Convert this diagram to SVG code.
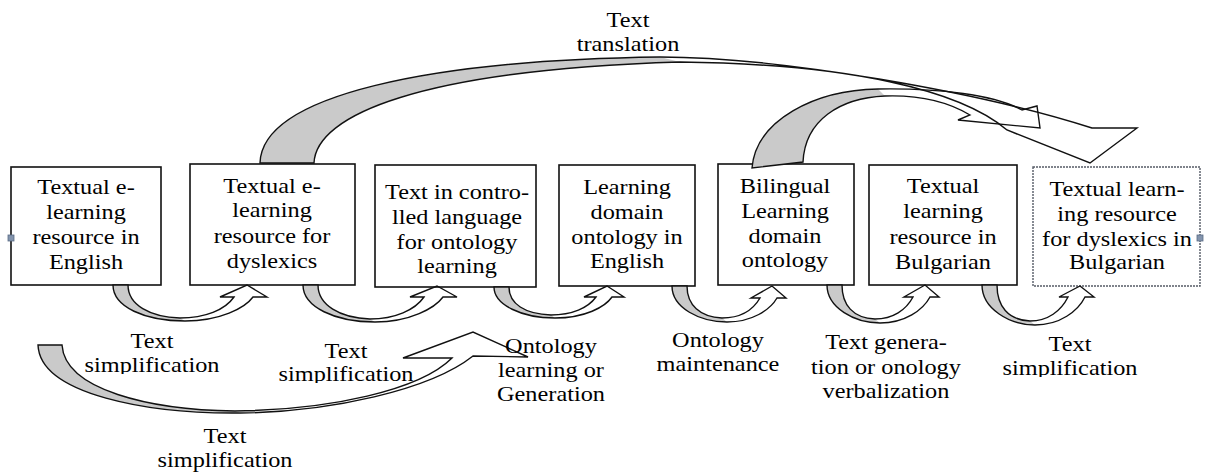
<svg xmlns="http://www.w3.org/2000/svg" width="1205" height="472" viewBox="0 0 1205 472">
<style>
.box{fill:#fff;stroke:#111;stroke-width:1.6}
.box.sel{stroke:#555b66;stroke-width:1.4;stroke-dasharray:2 1}
.t{font-family:"Liberation Serif","Times New Roman",serif;font-size:21.5px;fill:#000;text-anchor:middle}
.g{fill:#cacaca;stroke:none}
.ln{fill:none;stroke:#111;stroke-width:1.4;stroke-linejoin:miter}
.hd{fill:#8394ad;stroke:#5a6b85;stroke-width:0.8}
</style>
<defs>
<clipPath id="c1"><rect x="40" y="320" width="230" height="54"/></clipPath>
<clipPath id="c2"><rect x="240" y="330" width="220" height="53"/></clipPath>
<clipPath id="c7"><rect x="980" y="320" width="190" height="57"/></clipPath>
</defs>
<rect width="1205" height="472" fill="#fff"/>

<g id="node-en">
<rect class="box" x="11" y="167" width="150" height="118"/>
<text class="t" transform="translate(86 0) scale(1.13 1)"><tspan x="0" y="194">Textual e-</tspan><tspan x="0" y="219">learning</tspan><tspan x="0" y="244">resource in</tspan><tspan x="0" y="269">English</tspan></text>
<rect class="hd" x="8" y="235" width="6" height="6"/>
</g>
<g id="node-dys">
<rect class="box" x="190" y="164" width="165" height="121"/>
<text class="t" transform="translate(272 0) scale(1.13 1)"><tspan x="0" y="193">Textual e-</tspan><tspan x="0" y="217">learning</tspan><tspan x="0" y="243">resource for</tspan><tspan x="0" y="268">dyslexics</tspan></text>
</g>
<g id="node-ctrl">
<rect class="box" x="375" y="165" width="161" height="122"/>
<text class="t" transform="translate(457 0) scale(1.13 1)"><tspan x="0" y="199">Text in contro-</tspan><tspan x="0" y="224">lled language</tspan><tspan x="0" y="249">for ontology</tspan><tspan x="0" y="273">learning</tspan></text>
</g>
<g id="node-onto">
<rect class="box" x="559" y="165" width="136" height="121"/>
<text class="t" transform="translate(627 0) scale(1.13 1)"><tspan x="0" y="194">Learning</tspan><tspan x="0" y="219">domain</tspan><tspan x="0" y="244">ontology in</tspan><tspan x="0" y="268">English</tspan></text>
</g>
<g id="node-bil">
<rect class="box" x="718" y="164" width="136" height="121"/>
<text class="t" transform="translate(785 0) scale(1.13 1)"><tspan x="0" y="193">Bilingual</tspan><tspan x="0" y="218">Learning</tspan><tspan x="0" y="243">domain</tspan><tspan x="0" y="267">ontology</tspan></text>
</g>
<g id="node-bg">
<rect class="box" x="869" y="165" width="148" height="120"/>
<text class="t" transform="translate(943 0) scale(1.13 1)"><tspan x="0" y="193">Textual</tspan><tspan x="0" y="218">learning</tspan><tspan x="0" y="244">resource in</tspan><tspan x="0" y="269">Bulgarian</tspan></text>
</g>
<g id="node-bgdys">
<rect class="box sel" x="1033" y="167" width="167" height="119"/>
<text class="t" transform="translate(1117 0) scale(1.13 1)"><tspan x="0" y="196">Textual learn-</tspan><tspan x="0" y="221">ing resource</tspan><tspan x="0" y="246">for dyslexics in</tspan><tspan x="0" y="269">Bulgarian</tspan></text>
<rect class="hd" x="1197" y="235" width="6" height="6"/>
</g>

<g id="connectors">
<!-- small curved-up arrows -->
<path class="g" d="M113,285 C113,307 145,321 185,321 L180,318 C150,317 128,305 128,285 Z"/>
<path class="ln" d="M113,285 C113,307 145,321 185,321 C220,321 245,308 253,297 L267,297 L247,285 L220,297 L234,297 C225,310 205,318 180,318 C150,317 128,305 128,285 Z"/>

<path class="g" d="M303,285 C303,307 335,322 375,322 L370,319 C340,318 318,305 318,285 Z"/>
<path class="ln" d="M303,285 C303,307 335,322 375,322 C410,322 435,308 443,297 L457,297 L437,286 L410,297 L424,297 C415,310 395,319 370,319 C340,318 318,305 318,285 Z"/>

<path class="g" d="M494,287 C494,305 522,318 555,318 L551,315 C525,314 509,304 509,287 Z"/>
<path class="ln" d="M494,287 C494,305 522,318 555,318 C585,318 605,307 612,297 L624,297 L607,286 L584,297 L596,297 C588,308 572,315 551,315 C525,314 509,304 509,287 Z"/>

<path class="g" d="M672,286 C672,308 700,322 727,322 L722,318 C700,317 687,305 687,286 Z"/>
<path class="ln" d="M672,286 C672,308 700,322 727,322 C752,322 770,310 777,298 L786,298 L772,286 L751,298 L760,298 C753,310 740,318 722,318 C700,317 687,305 687,286 Z"/>

<path class="g" d="M827,285 C827,308 855,323 880,323 L875,319 C853,318 842,305 842,285 Z"/>
<path class="ln" d="M827,285 C827,308 855,323 880,323 C905,323 923,310 930,297 L939,297 L925,285 L904,297 L913,297 C906,310 893,319 875,319 C853,318 842,305 842,285 Z"/>

<path class="g" d="M982,285 C982,309 1010,325 1035,325 L1030,321 C1008,320 997,306 997,285 Z"/>
<path class="ln" d="M982,285 C982,309 1010,325 1035,325 C1060,325 1078,311 1085,297 L1094,297 L1080,286 L1059,297 L1068,297 C1061,311 1048,321 1030,321 C1008,320 997,306 997,285 Z"/>

<!-- long bottom arrow -->
<path class="g" d="M38,345 C40,395 150,414 240,413 L235,411 C150,410 65,390 62,345 Z"/>
<path class="ln" d="M38,345 C40,395 150,414 240,413 C330,412 430,390 473,356 L528,357 L473,332 L403,358 L452,358 C420,390 330,410 235,411 C150,410 65,390 62,345 Z"/>

<!-- arrow from bilingual ontology -->
<path class="g" d="M752,168 C756,120 815,90 878,89 L885,96 C840,98 805,120 803,162 Z"/>
<path class="ln" d="M752,168 C756,120 815,90 878,89 C940,88 995,95 1022,110 L1037,106 L1040,128 L958,120 L970,115 C945,100 915,95 885,96 C840,98 805,120 803,162 Z"/>

<!-- long top arrow: text translation -->
<path class="g" d="M260,163 C262,95 430,60 660,57 L680,62 C420,70 316,115 314,163 Z"/>
<path class="ln" d="M260,163 C262,95 430,60 660,57 C780,57 980,92 1092,128 L1137,128 L1090,163 L1007,130 C960,90 850,64 680,62 C420,70 316,115 314,163 Z"/>
</g>

<g id="labels">
<text class="t" transform="translate(628 0) scale(1.13 1)"><tspan x="0" y="27">Text</tspan><tspan x="0" y="51">translation</tspan></text>
<g clip-path="url(#c1)"><text class="t" transform="translate(152 0) scale(1.13 1)"><tspan x="0" y="348">Text</tspan><tspan x="0" y="372">simplification</tspan></text></g>
<g clip-path="url(#c2)"><text class="t" transform="translate(346 0) scale(1.13 1)"><tspan x="0" y="358">Text</tspan><tspan x="0" y="381">simplification</tspan></text></g>
<text class="t" transform="translate(225 0) scale(1.13 1)"><tspan x="0" y="443">Text</tspan><tspan x="0" y="467">simplification</tspan></text>
<text class="t" transform="translate(551 0) scale(1.13 1)"><tspan x="0" y="353">Ontology</tspan><tspan x="0" y="377">learning or</tspan><tspan x="0" y="401">Generation</tspan></text>
<text class="t" transform="translate(718 0) scale(1.13 1)"><tspan x="0" y="347">Ontology</tspan><tspan x="0" y="371">maintenance</tspan></text>
<text class="t" transform="translate(886 0) scale(1.13 1)"><tspan x="0" y="349">Text genera-</tspan><tspan x="0" y="374">tion or onology</tspan><tspan x="0" y="398">verbalization</tspan></text>
<g clip-path="url(#c7)"><text class="t" transform="translate(1070 0) scale(1.13 1)"><tspan x="0" y="351">Text</tspan><tspan x="0" y="375">simplification</tspan></text></g>
</g>
</svg>
